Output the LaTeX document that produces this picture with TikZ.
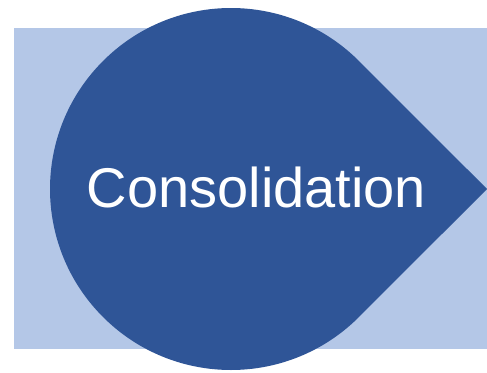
\documentclass[tikz,border=0pt]{standalone}
\usepackage{fontspec}
\setmainfont{Liberation Sans}
\definecolor{darkblue}{HTML}{2F5597}
\definecolor{lightblue}{HTML}{B4C7E7}
\tikzset{
  backrect/.style={fill=lightblue},
  drop/.style={fill=darkblue},
  label/.style={text=white, font=\fontsize{56}{60}\selectfont, inner sep=0pt}
}
\begin{document}
\begin{tikzpicture}[x=1pt,y=-1pt]
\useasboundingbox (0,0) rectangle (487,372);
\fill[backrect] (14,28) rectangle (487,349);
\coordinate (c) at (231,189);
\coordinate (apex) at (487,189);
\fill[drop] (c) ++(-45:181) arc[start angle=-45,end angle=-315,radius=181] -- (apex) -- cycle;
\node[label, anchor=base] (t) at (256.5,207) {Consolidation};
\end{tikzpicture}
\end{document}
